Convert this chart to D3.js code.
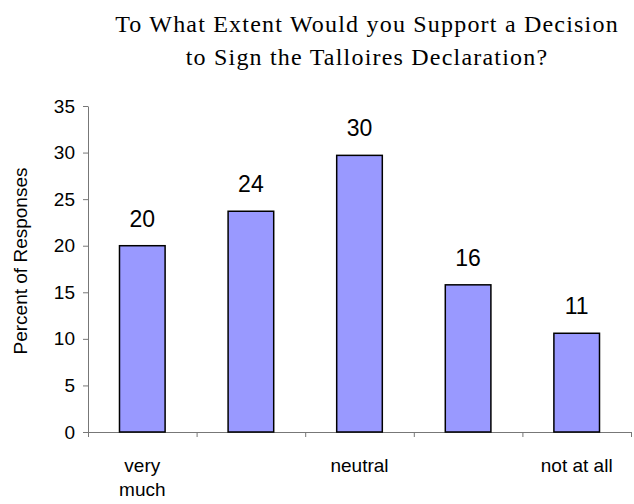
<!DOCTYPE html>
<html>
<head>
<meta charset="utf-8">
<script src="https://cdn.jsdelivr.net/npm/d3@7"></script>
<style>
  body { margin: 0; background: #fff; }
</style>
</head>
<body>
<div id="chart"></div>
<script>
const categories = ["very much", "", "neutral", "", "not at all"];
const values = [20.0, 23.7, 29.7, 15.8, 10.6];
const valueLabels = ["20", "24", "30", "16", "11"];
const yTicks = [0, 5, 10, 15, 20, 25, 30, 35];
const titleLines = ["To What Extent Would you Support a Decision", "to Sign the Talloires Declaration?"];

const W = 634, H = 504;
const margin = { left: 88, right: 3, top: 106, bottom: 72 };
const innerW = W - margin.left - margin.right;
const innerH = H - margin.top - margin.bottom;
const sans = "'Liberation Sans', Arial, sans-serif";

const svg = d3.select("#chart").append("svg")
    .attr("width", W)
    .attr("height", H);

// title
svg.append("g").selectAll("text")
    .data(titleLines)
    .enter().append("text")
    .attr("x", 367)
    .attr("y", (d, i) => 32 + i * 33)
    .attr("text-anchor", "middle")
    .style("font-family", "'Liberation Serif', 'Times New Roman', serif")
    .style("font-size", "24px")
    .style("letter-spacing", "1.2px")
    .text(d => d);

const g = svg.append("g")
    .attr("transform", `translate(${margin.left},${margin.top})`);

const x = d3.scaleBand()
    .domain(d3.range(categories.length))
    .range([0, innerW])
    .paddingInner(0.58)
    .paddingOuter(0.29);

const y = d3.scaleLinear()
    .domain([0, 35])
    .range([innerH, 0]);

// y axis
const yAxis = g.append("g")
    .call(d3.axisLeft(y).tickValues(yTicks).tickSize(5).tickSizeOuter(0).tickPadding(8));
yAxis.select(".domain").attr("stroke", "#777");
yAxis.selectAll(".tick line").attr("stroke", "#777");
yAxis.selectAll("text")
    .style("font-family", sans)
    .style("font-size", "19px")
    .attr("fill", "#000");

// x axis with ticks between categories
const xLin = d3.scaleLinear().domain([0, categories.length]).range([0, innerW]);
const xAxis = g.append("g")
    .attr("transform", `translate(0,${innerH})`)
    .call(d3.axisBottom(xLin).tickValues(d3.range(categories.length + 1)).tickSize(5).tickSizeOuter(0).tickFormat(""));
xAxis.select(".domain").attr("stroke", "#777");
xAxis.selectAll(".tick line").attr("stroke", "#777");

// category labels
const catG = g.append("g").selectAll("text")
    .data(categories)
    .enter().append("text")
    .attr("x", (d, i) => x(i) + x.bandwidth() / 2)
    .attr("y", innerH + 40)
    .attr("text-anchor", "middle")
    .style("font-family", sans)
    .style("font-size", "19px");
catG.each(function (d) {
    const words = d.split(" ");
    const el = d3.select(this);
    const cx = el.attr("x");
    if (d === "very much") {
        words.forEach((w, j) => {
            el.append("tspan").attr("x", cx).attr("dy", j === 0 ? 0 : 24).text(w);
        });
    } else {
        el.text(d);
    }
});

// bars
g.append("g").selectAll("rect")
    .data(values)
    .enter().append("rect")
    .attr("x", (d, i) => x(i))
    .attr("y", d => y(d))
    .attr("width", x.bandwidth())
    .attr("height", d => innerH - y(d))
    .attr("fill", "#9999ff")
    .attr("stroke", "#000")
    .attr("stroke-width", 1.5);

// value labels
g.append("g").selectAll("text")
    .data(values)
    .enter().append("text")
    .attr("x", (d, i) => x(i) + x.bandwidth() / 2)
    .attr("y", d => y(d) - 19)
    .attr("text-anchor", "middle")
    .style("font-family", sans)
    .style("font-size", "23px")
    .text((d, i) => valueLabels[i]);

// y axis title
svg.append("text")
    .attr("transform", `translate(27,${margin.top + innerH / 2 - 8}) rotate(-90)`)
    .attr("text-anchor", "middle")
    .style("font-family", sans)
    .style("font-size", "19px")
    .text("Percent of Responses");
</script>
</body>
</html>
